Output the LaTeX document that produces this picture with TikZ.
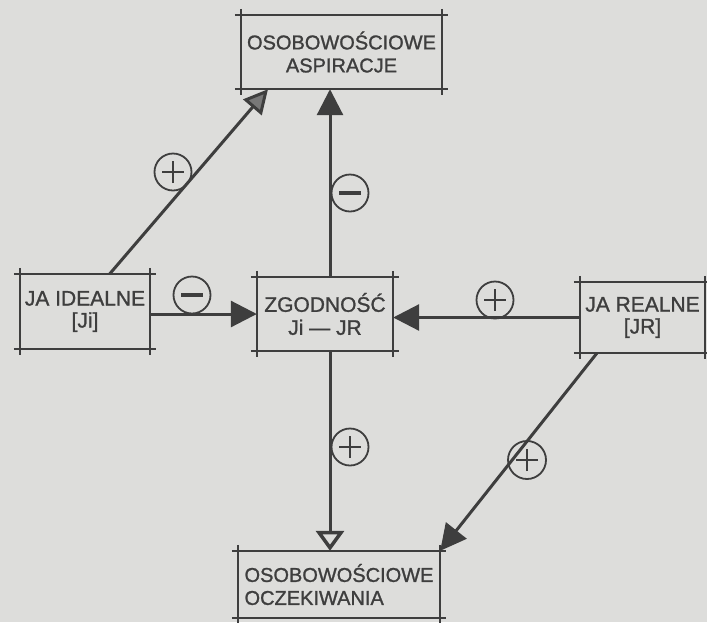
\documentclass[tikz,border=0pt]{standalone}
\usepackage{fontspec}
\setmainfont{Liberation Sans}[BoldFont={Liberation Sans},BoldFeatures={FakeBold=1.2}]
\usetikzlibrary{arrows.meta,calc}
\definecolor{bg}{RGB}{221,221,219}
\definecolor{ink}{RGB}{62,62,62}
\definecolor{mid}{RGB}{120,120,120}
\newcommand\skbox[1]{%
  \draw[boxline] ($(#1.north west)+(-6,0)$) -- ($(#1.north east)+(6,0)$);
  \draw[boxline] ($(#1.south west)+(-6,0)$) -- ($(#1.south east)+(6,0)$);
  \draw[boxline] ($(#1.north west)+(0,-6)$) -- ($(#1.south west)+(0,6)$);
  \draw[boxline] ($(#1.north east)+(0,-6)$) -- ($(#1.south east)+(0,6)$);}
\tikzset{
  boxline/.style={ink, line width=2.3pt},
  bx/.style={draw=none, inner sep=0pt, text=ink, align=center,
    font=\fontsize{20}{23}\selectfont\bfseries},
  mbx/.style={bx, font=\fontsize{21}{23}\selectfont\bfseries},
  sbx/.style={bx, font=\fontsize{21}{22}\selectfont\bfseries},
  arr/.style={ink, line width=3pt, -{Triangle[length=26pt,width=26pt]}},
  arrmid/.style={ink, line width=3pt, -{Triangle[length=24pt,width=24pt,fill=mid]}},
  openarr/.style={ink, line width=3pt, -{Triangle[length=20pt,width=28pt,fill=bg,line width=3.5pt]}},
  sign/.style={circle, draw=ink, line width=1.8pt, minimum size=37pt, inner sep=0pt},
  plussign/.style={sign, path picture={
      \draw[ink, line width=1.9pt]
        ([xshift=-11pt]path picture bounding box.center) -- ([xshift=11pt]path picture bounding box.center)
        ([yshift=-11pt]path picture bounding box.center) -- ([yshift=11pt]path picture bounding box.center);}},
  minussign/.style={sign, path picture={
      \draw[ink, line width=3.2pt]
        ([xshift=-11pt]path picture bounding box.center) -- ([xshift=11pt]path picture bounding box.center);}},
}
\begin{document}
\begin{tikzpicture}[x=1pt, y=-1pt]
  \path[use as bounding box, fill=bg] (0,0) rectangle (707,622);

  % boxes
  \node[bx, minimum width=201pt, minimum height=74pt] (asp) at (341.5,52) {OSOBOWOŚCIOWE\\ASPIRACJE};
  \node[sbx, minimum width=130pt, minimum height=75pt] (ideal) at (85,311.5) {JA IDEALNE\\{[}Ji{]}};
  \node[mbx, minimum width=136pt, minimum height=74pt] (zg) at (325,314) {ZGODNOŚĆ\\Ji — JR};
  \node[sbx, minimum width=125pt, minimum height=71pt] (real) at (642.5,317.5) {JA REALNE\\{[}JR{]}};
  \node[bx, minimum width=202pt, minimum height=67pt, align=left] (ocz) at (339,584.5) {OSOBOWOŚCIOWE\\OCZEKIWANIA};

  \skbox{asp}
  \skbox{ideal}
  \skbox{zg}
  \skbox{real}
  \skbox{ocz}

  % connector end points
  \coordinate (h1) at ([yshift=-2.5pt]ideal.east);
  \coordinate (vu) at ([xshift=5pt]zg.north);
  \coordinate (vd) at ([xshift=5pt]zg.south);
  \coordinate (d1) at ($(ideal.north west)!0.69!(ideal.north east)$);
  \coordinate (d1e) at ($(asp.south west)!0.135!(asp.south east)$);
  \coordinate (d2) at ($(real.south west)!0.136!(real.south east)$);

  % connectors
  \draw[arr] (h1) -- (h1 -| zg.west);
  \draw[arr] (real.west) -- (real.west -| zg.east);
  \draw[arr] (vu) -- (vu |- asp.south);
  \draw[arrmid] (d1) -- (d1e);
  \draw[openarr] (vd) -- (vd |- ocz.north);
  \draw[arr] (d2) -- (ocz.north east);

  % signs
  \node[minussign] (s1) at (192,295) {};
  \node[plussign] (s2) at (495,300) {};
  \node[minussign] (s3) at (350,193) {};
  \node[plussign] (s4) at (173,172) {};
  \node[plussign] (s5) at (350,447) {};
  \node[plussign, minimum size=38pt] (s6) at (527,460) {};
\end{tikzpicture}
\end{document}
